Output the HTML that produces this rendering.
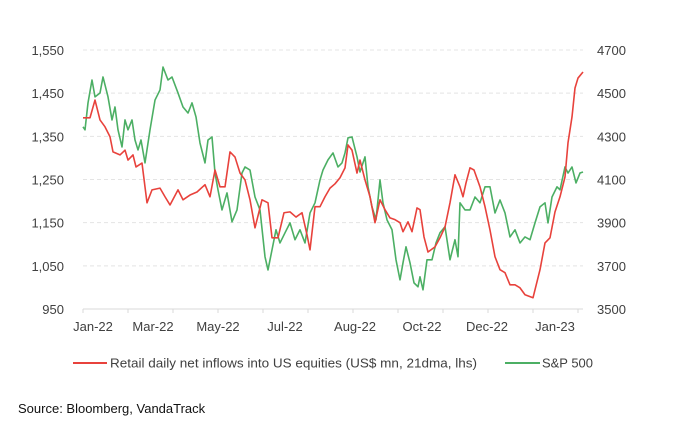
<!DOCTYPE html>
<html><head><meta charset="utf-8"><style>
body{margin:0;background:#fff;font-family:"Liberation Sans",Arial,sans-serif}
svg{display:block}
text{font-family:"Liberation Sans",Arial,sans-serif;fill:#404040}
</style></head><body>
<svg id="chart" width="679" height="430">
<g id="grid"></g>
<g id="axes"></g>
<g id="series"></g>
<g>
<line x1="73" y1="363" x2="107" y2="363" stroke="#e8423c" stroke-width="2"/>
<text x="110" y="367.5" font-size="13" textLength="367" lengthAdjust="spacingAndGlyphs">Retail daily net inflows into US equities (US$ mn, 21dma, lhs)</text>
<line x1="505" y1="363" x2="540" y2="363" stroke="#4caf64" stroke-width="2"/>
<text x="542" y="367.5" font-size="13" textLength="51" lengthAdjust="spacingAndGlyphs">S&amp;P 500</text>
</g>
<text x="18" y="413" font-size="13" style="fill:#111">Source: Bloomberg, VandaTrack</text>
</svg>
<script>
const leftTicks=[950,1050,1150,1250,1350,1450,1550];
const rightTicks=[3500,3700,3900,4100,4300,4500,4700];
const monthLabels=["Jan-22","Mar-22","May-22","Jul-22","Aug-22","Oct-22","Dec-22","Jan-23"];
const monthPos=[10,70,135,202,272,339,404,472];
const redT=[0,7,12,17,22,27,30,37,42,45,50,53,59,64,69,77,82,87,95,100,107,114,122,127,132,137,142,147,152,157,162,167,172,179,185,189,195,201,207,213,219,224,227,232,237,242,247,252,257,262,265,269,274,277,282,287,292,297,302,307,312,317,320,325,329,334,337,341,345,352,357,362,367,372,377,380,383,387,391,397,402,407,412,417,422,427,432,437,442,450,457,462,467,472,477,482,485,489,492,495,500];
const redV=[1393,1393,1434,1388,1372,1349,1314,1307,1318,1295,1307,1279,1288,1196,1226,1230,1210,1191,1226,1203,1214,1221,1238,1210,1272,1233,1233,1314,1302,1265,1249,1203,1138,1203,1196,1115,1115,1173,1175,1163,1173,1122,1087,1187,1187,1210,1230,1240,1254,1277,1330,1318,1265,1295,1249,1210,1150,1203,1180,1161,1157,1150,1129,1152,1129,1184,1180,1117,1082,1094,1115,1140,1196,1261,1233,1210,1242,1277,1272,1233,1187,1133,1071,1041,1034,1006,1006,999,983,976,1041,1103,1115,1175,1210,1256,1335,1395,1462,1485,1499];
const spT=[0,2,5,9,12,17,20,25,29,32,35,39,42,45,49,52,55,58,62,67,72,77,80,85,89,95,100,105,109,113,117,122,125,129,132,135,139,144,149,154,159,162,167,172,177,182,185,189,193,197,202,207,212,217,222,227,232,237,240,245,250,255,259,262,265,269,274,277,282,285,289,293,297,300,304,309,313,317,320,323,327,331,335,337,340,344,349,353,357,362,367,372,375,377,382,387,392,397,402,407,412,417,422,427,432,437,442,447,452,457,462,465,469,474,477,482,485,489,493,497,500];
const spV=[4344,4330,4455,4561,4483,4501,4575,4483,4376,4436,4330,4251,4376,4330,4376,4283,4237,4283,4177,4330,4468,4515,4621,4561,4575,4501,4436,4408,4455,4390,4269,4177,4283,4297,4130,4052,3959,4038,3904,3959,4130,4158,4144,4019,3959,3742,3681,3774,3867,3806,3853,3899,3821,3867,3806,3945,3992,4098,4144,4191,4223,4158,4177,4223,4293,4297,4205,4135,4205,4066,3973,3913,4098,3992,3913,3867,3728,3635,3714,3788,3714,3621,3603,3649,3589,3728,3728,3806,3853,3881,3728,3821,3742,3992,3959,3959,4019,3992,4066,4066,3945,4005,3945,3834,3867,3806,3834,3821,3899,3973,3992,3899,4019,4066,4052,4158,4130,4158,4084,4130,4135];
const X0=83,X1=583,Y0=50,Y1=309;
const xs=t=>X0+(t/500)*(X1-X0);
const yL=v=>Y1-(v-950)/600*(Y1-Y0);
const yR=v=>Y1-(v-3500)/1200*(Y1-Y0);
const NS="http://www.w3.org/2000/svg";
function mk(tag,attrs,parent){const e=document.createElementNS(NS,tag);for(const k in attrs)e.setAttribute(k,attrs[k]);parent.appendChild(e);return e;}
const grid=document.getElementById('grid'),axes=document.getElementById('axes'),ser=document.getElementById('series');
leftTicks.forEach((v,i)=>{
  const y=yL(v);
  if(i>0){const g=mk('line',{x1:X0,x2:X1,y1:y,y2:y,stroke:'#e4e4e4','stroke-dasharray':'4,3'},grid);
  
  }
  const t=mk('text',{x:64,y:y+5,'text-anchor':'end','font-size':13},axes);t.textContent=v.toLocaleString('en-US');
  
  
});
rightTicks.forEach(v=>{
  const t=mk('text',{x:597,y:yR(v)+5,'font-size':13},axes);t.textContent=v;
  
  
});
const ax=mk('line',{x1:X0,x2:X1,y1:Y1,y2:Y1,stroke:'#d9d9d9'},axes);


for(let i=0;i<12;i++){const tk=mk('line',{x1:X0+i*45,x2:X0+i*45,y1:Y1,y2:Y1+4,stroke:'#d9d9d9'},axes);

}
monthLabels.forEach((m,i)=>{
  const t=mk('text',{x:xs(monthPos[i]),y:331,'text-anchor':'middle','font-size':13},axes);t.textContent=m;
  
  
});
const gp=mk('polyline',{points:spT.map((t,i)=>xs(t)+','+yR(spV[i])).join(' '),fill:'none',stroke:'#4caf64','stroke-width':1.6,'stroke-linejoin':'round'},ser);


const rp=mk('polyline',{points:redT.map((t,i)=>xs(t)+','+yL(redV[i])).join(' '),fill:'none',stroke:'#e8423c','stroke-width':1.6,'stroke-linejoin':'round'},ser);


</script>
</body></html>
